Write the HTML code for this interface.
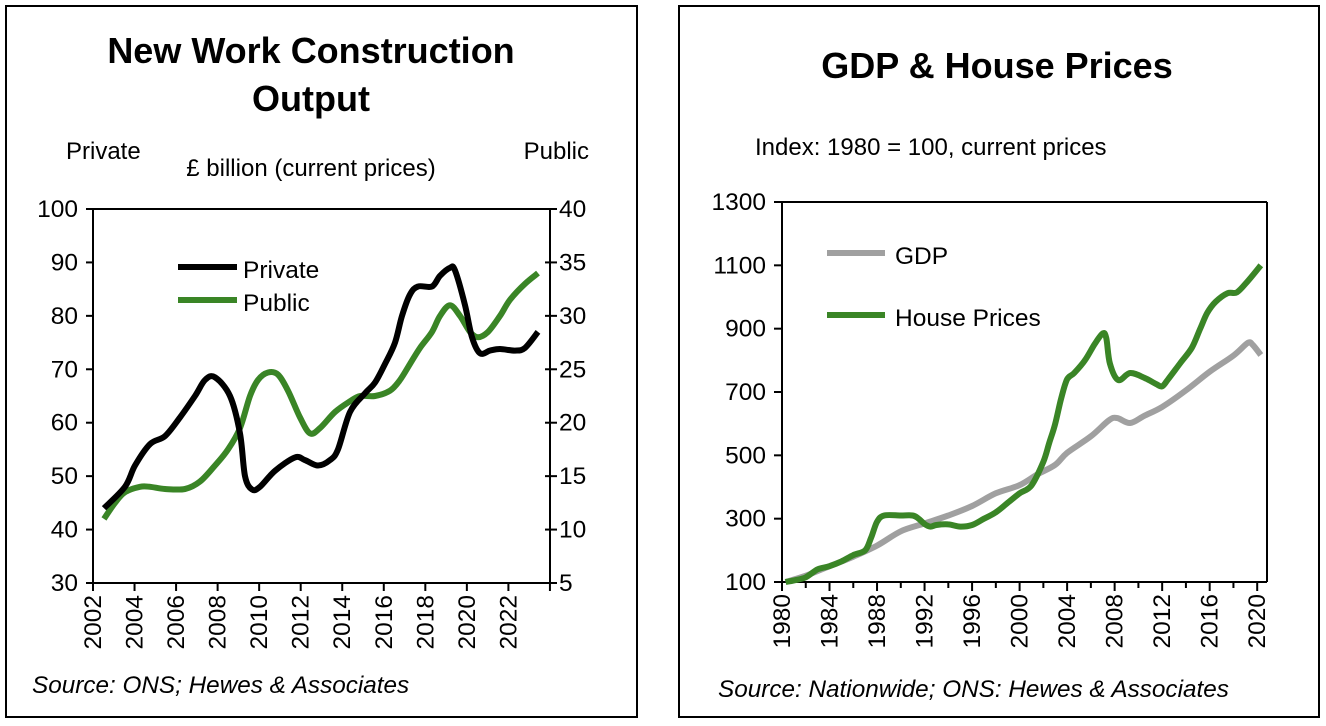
<!DOCTYPE html>
<html><head><meta charset="utf-8"><style>
html,body{margin:0;padding:0;background:#fff;}
svg{display:block;font-family:"Liberation Sans",Arial,sans-serif;}
</style></head><body>
<svg id="s" width="1326" height="726" viewBox="0 0 1326 726" xmlns="http://www.w3.org/2000/svg">
<rect x="6" y="6" width="631" height="711" fill="none" stroke="#000" stroke-width="2"/>
<rect x="679" y="6" width="640" height="711" fill="none" stroke="#000" stroke-width="2"/>
<text x="311" y="63" font-size="36" font-weight="bold" text-anchor="middle">New Work Construction</text>
<text x="311" y="111" font-size="36" font-weight="bold" text-anchor="middle">Output</text>
<text x="997" y="78" font-size="36" font-weight="bold" text-anchor="middle">GDP &amp; House Prices</text>
<text x="66" y="159" font-size="24">Private</text>
<text x="589" y="159" font-size="24" text-anchor="end">Public</text>
<text x="311" y="176" font-size="24" text-anchor="middle">£ billion (current prices)</text>
<text x="755" y="155" font-size="24">Index: 1980 = 100, current prices</text>
<text x="32" y="693" font-size="24.3" font-style="italic">Source: ONS; Hewes &amp; Associates</text>
<text x="718" y="697" font-size="24.3" font-style="italic">Source: Nationwide; ONS: Hewes &amp; Associates</text>
<g id="g"></g>
</svg>
<script>
var g=document.getElementById('g'),h='';
function L(x1,y1,x2,y2,w){h+='<line x1="'+x1+'" y1="'+y1+'" x2="'+x2+'" y2="'+y2+'" stroke="#000" stroke-width="'+(w||2)+'"/>';}
function T(x,y,t,a,extra){h+='<text x="'+x+'" y="'+y+'" font-size="24.5" text-anchor="'+a+'" '+(extra||'')+'>'+t+'</text>';}
function P(pts,c,w){var d='M'+pts[0][0].toFixed(1)+','+pts[0][1].toFixed(1);
 for(var i=0;i<pts.length-1;i++){var p0=pts[Math.max(0,i-1)],p1=pts[i],p2=pts[i+1],p3=pts[Math.min(pts.length-1,i+2)];
 var c1=[p1[0]+(p2[0]-p0[0])/6,p1[1]+(p2[1]-p0[1])/6],c2=[p2[0]-(p3[0]-p1[0])/6,p2[1]-(p3[1]-p1[1])/6];
 d+='C'+c1[0].toFixed(1)+','+c1[1].toFixed(1)+' '+c2[0].toFixed(1)+','+c2[1].toFixed(1)+' '+p2[0].toFixed(1)+','+p2[1].toFixed(1);}
 h+='<path d="'+d+'" fill="none" stroke="'+c+'" stroke-width="'+w+'" stroke-linejoin="round"/>';}
// LEFT
var X0=93,X1=550,Y0=583,Y1=209;
L(X0,Y1,X0,Y0);L(X1,Y1,X1,Y0);L(X0,Y0,X1,Y0);L(X0,Y1,X1,Y1);
for(var v=30;v<=100;v+=10){var y=Y0-(v-30)*5.343;L(X0-7,y,X0,y);T(X0-15,y+8,v,'end');}
for(var v=5;v<=40;v+=5){var y=Y0-(v-5)*10.686;L(X1-5,y,X1+7,y);T(X1+9,y+8,v,'start');}
for(var yr=2002;yr<=2024;yr+=2){var x=X0+(yr-2002)*20.77;L(x,Y0,x,Y0+8);if(yr<=2022)T(x+8,Y0+12,yr,'end','transform="rotate(-90 '+(x+8)+' '+(Y0+12)+')"');}
var priv=[[104,44],[125,48],[135,52],[150,56],[165,57.5],[180,61],[195,65],[205,68],[215,68.5],[230,65],[240,58],[245,50],[252,47.5],[260,48],[275,51],[295,53.5],[305,53],[318,52],[330,53],[338,55],[350,62],[365,65.5],[375,67.5],[385,71],[395,75],[402,80],[410,84],[418,85.5],[432,85.5],[440,87.5],[450,89],[455,88.5],[465,82],[472,76],[480,73],[490,73.5],[500,73.8],[515,73.5],[525,74],[538,77]];
var pub=[[104,11],[115,12.5],[125,13.5],[140,14],[150,14],[165,13.8],[185,13.8],[200,14.5],[215,16],[228,17.5],[240,19.5],[250,22.5],[258,24],[268,24.7],[278,24.5],[288,23],[300,20.5],[310,19],[320,19.5],[335,21],[350,22],[360,22.5],[375,22.5],[390,23],[400,24],[410,25.5],[420,27],[432,28.5],[440,30],[450,31],[460,30],[470,28.5],[478,28],[488,28.5],[500,30],[510,31.5],[525,33],[538,34]];
P(pub.map(function(p){return [p[0],Y0-(p[1]-5)*10.686];}),'#3a8526',6);
P(priv.map(function(p){return [p[0],Y0-(p[1]-30)*5.343];}),'#000',6);
L(178,267,237,267,6);
T(243,278,'Private','start');
h+='<line x1="178" y1="300" x2="237" y2="300" stroke="#3a8526" stroke-width="6"/>';T(243,311,'Public','start');
// RIGHT
var A0=782,A1=1267,B0=582,B1=202,py=(B0-B1)/1200;
L(A0,B1,A0,B0);L(A1,B1,A1,B0);L(A0,B0,A1,B0);L(A0,B1,A1,B1);
for(var v=100;v<=1300;v+=200){var y=B0-(v-100)*py;L(A0-8,y,A0,y);T(A0-16,y+8,v,'end');}
function XR(yr){return A0+(yr-1980)*11.88;}
for(var yr=1980;yr<=2020;yr+=2){var x=XR(yr);L(x,B0,x,B0+(yr%4==0?9:6));if(yr%4==0)T(x+8,B0+12,yr,'end','transform="rotate(-90 '+(x+8)+' '+(B0+12)+')"');}
var gdp=[[1980.3,100],[1982,120],[1984,150],[1986,180],[1988,215],[1990,260],[1992,285],[1994,310],[1996,340],[1998,380],[2000,406],[2001.5,440],[2003,470],[2004,508],[2006,560],[2007.5,610],[2008.2,618],[2009.3,602],[2010.5,625],[2012,653],[2014,705],[2016,764],[2018,815],[2019.2,855],[2019.6,850],[2020.3,817]];
var hp=[[1980.3,100],[1981,105],[1982,115],[1983,140],[1984,150],[1985,165],[1986,185],[1987,200],[1987.5,240],[1988,290],[1988.6,310],[1990,310],[1991,310],[1991.5,300],[1992,283],[1992.5,275],[1993,280],[1994,282],[1995,275],[1996,280],[1997,300],[1998,320],[1999,350],[2000,380],[2001,405],[2002,480],[2002.5,540],[2003,600],[2003.5,680],[2004,740],[2004.6,760],[2005.5,800],[2006.3,850],[2007,885],[2007.3,870],[2007.6,790],[2008.3,738],[2009.3,760],[2010.5,745],[2011.5,725],[2012,718],[2012.5,740],[2013.5,790],[2014.5,840],[2015.2,900],[2015.8,950],[2016.5,985],[2017.5,1012],[2018.3,1015],[2019.2,1050],[2020.3,1100]];
P(gdp.map(function(p){return [XR(p[0]),B0-(p[1]-100)*py];}),'#a0a0a0',6);
P(hp.map(function(p){return [XR(p[0]),B0-(p[1]-100)*py];}),'#3a8526',6);
h+='<line x1="827" y1="253" x2="885" y2="253" stroke="#a0a0a0" stroke-width="6"/>';T(895,264,'GDP','start');
h+='<line x1="827" y1="315" x2="885" y2="315" stroke="#3a8526" stroke-width="6"/>';T(895,326,'House Prices','start');
g.innerHTML=h;
</script>
</body></html>
